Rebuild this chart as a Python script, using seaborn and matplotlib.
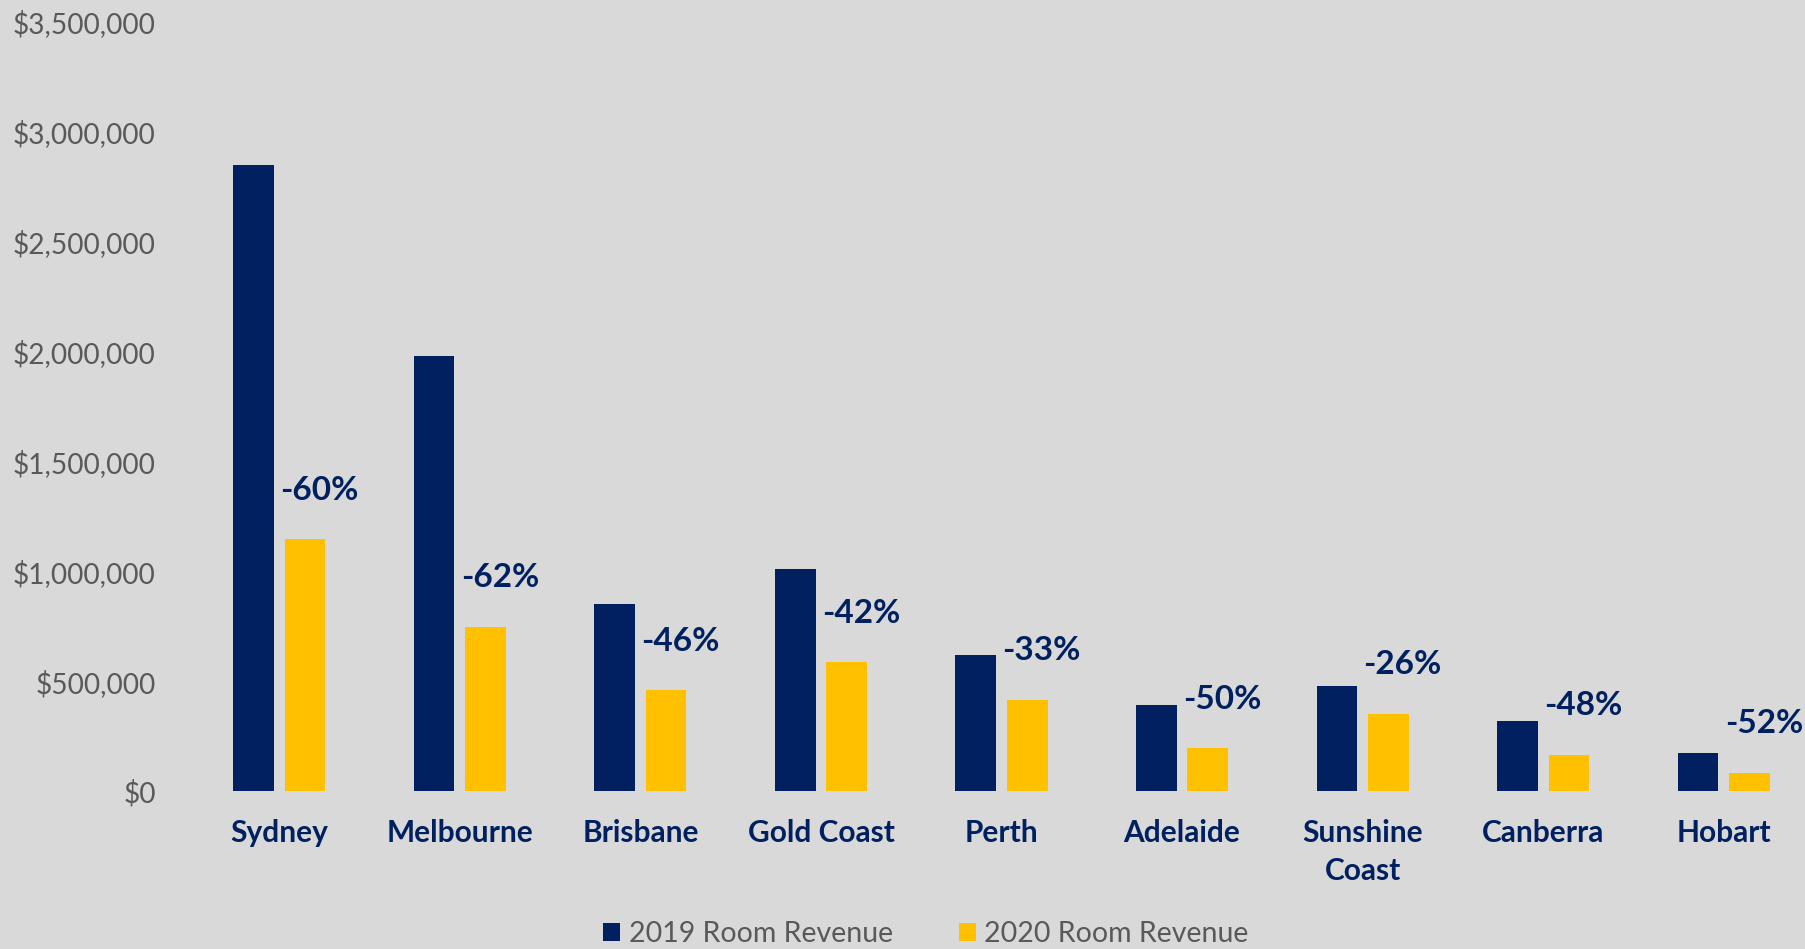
import matplotlib
matplotlib.use("Agg")
import matplotlib.pyplot as plt
import seaborn as sns
import pandas as pd
from matplotlib.ticker import FuncFormatter, MultipleLocator

cities = ["Sydney", "Melbourne", "Brisbane", "Gold Coast", "Perth",
          "Adelaide", "Sunshine\nCoast", "Canberra", "Hobart"]
rev_2019 = [2850000, 1980000, 850000, 1010000, 618000, 390000, 477000, 318000, 171000]
rev_2020 = [1145000, 748000, 458000, 586000, 414000, 194000, 350000, 163000, 81000]
pct_labels = ["-60%", "-62%", "-46%", "-42%", "-33%", "-50%", "-26%", "-48%", "-52%"]
series = ["2019 Room Revenue", "2020 Room Revenue"]

NAVY = "#002060"
GOLD = "#FFC000"
BG = "#D9D9D9"
GREY = "#595959"

df = pd.DataFrame({
    "city": cities * 2,
    "revenue": rev_2019 + rev_2020,
    "series": [series[0]] * len(cities) + [series[1]] * len(cities),
})

sns.set_theme(style="white")
plt.rcParams["font.family"] = ["Lato", "DejaVu Sans"]

fig = plt.figure(figsize=(18.05, 9.49), dpi=100, facecolor=BG)
ax = fig.add_axes([189 / 1805, 158 / 949, (1805 - 189) / 1805, (791 - 22) / 949])
ax.set_facecolor(BG)

sns.barplot(data=df, x="city", y="revenue", hue="series", order=cities,
            hue_order=series, palette=[NAVY, GOLD], saturation=1,
            width=0.57, gap=0.21, errorbar=None, linewidth=0, ax=ax)

ax.set_ylim(0, 3500000)
ax.set_xlim(-0.5, 8.45)
ax.yaxis.set_major_locator(MultipleLocator(500000))
ax.yaxis.set_major_formatter(FuncFormatter(lambda v, p: f"${v:,.0f}"))
for s in ax.spines.values():
    s.set_visible(False)
ax.tick_params(axis="y", length=0, pad=24, labelsize=20.2, labelcolor=GREY)
ax.tick_params(axis="x", length=0, pad=20, labelsize=21.5)
for lab in ax.get_xticklabels():
    lab.set_fontweight("bold")
    lab.set_color(NAVY)
    lab.set_linespacing(1.45)
ax.set_xlabel("")
ax.set_ylabel("")
ax.grid(False)

for i, (v, t) in enumerate(zip(rev_2020, pct_labels)):
    ax.annotate(t, xy=(i + 0.005, v), xytext=(0, 25), textcoords="offset points",
                ha="left", va="bottom", fontsize=24, fontweight="bold", color=NAVY)

sns.move_legend(ax, "center", bbox_to_anchor=(0.513 * 1805 / 1616 - 189 / 1616, (934 - 791) / -769.0),
                ncol=2, frameon=False, title=None, fontsize=20.5,
                handlelength=0.6, handleheight=0.6, handletextpad=0.3,
                columnspacing=2.3, labelcolor=GREY)

fig.savefig("out.png", dpi=100, facecolor=BG)
